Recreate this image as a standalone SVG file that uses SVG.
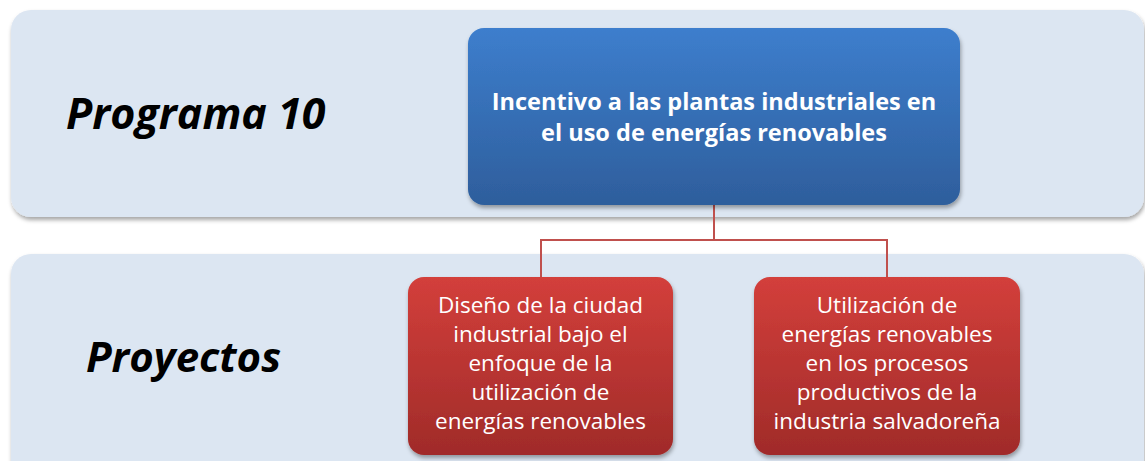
<svg xmlns="http://www.w3.org/2000/svg" width="1145" height="461" viewBox="0 0 1145 461">
<style>
.band{fill:#dce6f2;filter:url(#sh)}
.lbl{font-family:"Open Sans","Noto Sans",sans-serif;font-weight:bold;font-style:italic;fill:#000}
.bt{font-family:"Open Sans","Noto Sans",sans-serif;font-weight:bold;font-size:23.5px;fill:#fff;text-anchor:middle}
.rt{font-family:"Open Sans","Noto Sans",sans-serif;font-size:22.5px;fill:#fff;text-anchor:middle}
.conn{fill:none;stroke:#c0504d;stroke-width:2}
</style>
<defs>
<linearGradient id="gb" x1="0" y1="0" x2="0" y2="1"><stop offset="0" stop-color="#3d7ecd"/><stop offset="1" stop-color="#2e5e9c"/></linearGradient>
<linearGradient id="gr" x1="0" y1="0" x2="0" y2="1"><stop offset="0" stop-color="#d33f3b"/><stop offset="1" stop-color="#a02b29"/></linearGradient>
<filter id="sh" x="-5%" y="-10%" width="110%" height="125%"><feDropShadow dx="1" dy="3" stdDeviation="2" flood-color="#000" flood-opacity="0.35"/></filter>
</defs>
<rect width="1145" height="461" fill="#fff"/>
<g id="band-programa">
<rect class="band" x="11" y="10" width="1133" height="207" rx="20"/>
<text class="lbl" x="66" y="129" font-size="43">Programa 10</text>
</g>
<g id="band-proyectos">
<rect class="band" x="11" y="254" width="1133" height="230" rx="20"/>
<text class="lbl" x="86" y="372" font-size="42">Proyectos</text>
</g>
<g id="connectors">
<path class="conn" d="M714 205 V240 H541 V277 M714 240 H887 V277"/>
</g>
<g id="node-programa">
<rect x="468" y="28" width="492" height="177" rx="16" fill="url(#gb)" filter="url(#sh)"/>
<text class="bt" x="714" y="110">Incentivo a las plantas industriales en</text>
<text class="bt" x="714" y="141">el uso de energías renovables</text>
</g>
<g id="node-proyecto1">
<rect x="408" y="277" width="265" height="178" rx="16" fill="url(#gr)" filter="url(#sh)"/>
<text class="rt" x="540.5" y="313">Diseño de la ciudad</text>
<text class="rt" x="540.5" y="342">industrial bajo el</text>
<text class="rt" x="540.5" y="371">enfoque de la</text>
<text class="rt" x="540.5" y="400">utilización de</text>
<text class="rt" x="540.5" y="429">energías renovables</text>
</g>
<g id="node-proyecto2">
<rect x="754" y="277" width="266" height="178" rx="16" fill="url(#gr)" filter="url(#sh)"/>
<text class="rt" x="887" y="313">Utilización de</text>
<text class="rt" x="887" y="342">energías renovables</text>
<text class="rt" x="887" y="371">en los procesos</text>
<text class="rt" x="887" y="400">productivos de la</text>
<text class="rt" x="887" y="429">industria salvadoreña</text>
</g>
</svg>
